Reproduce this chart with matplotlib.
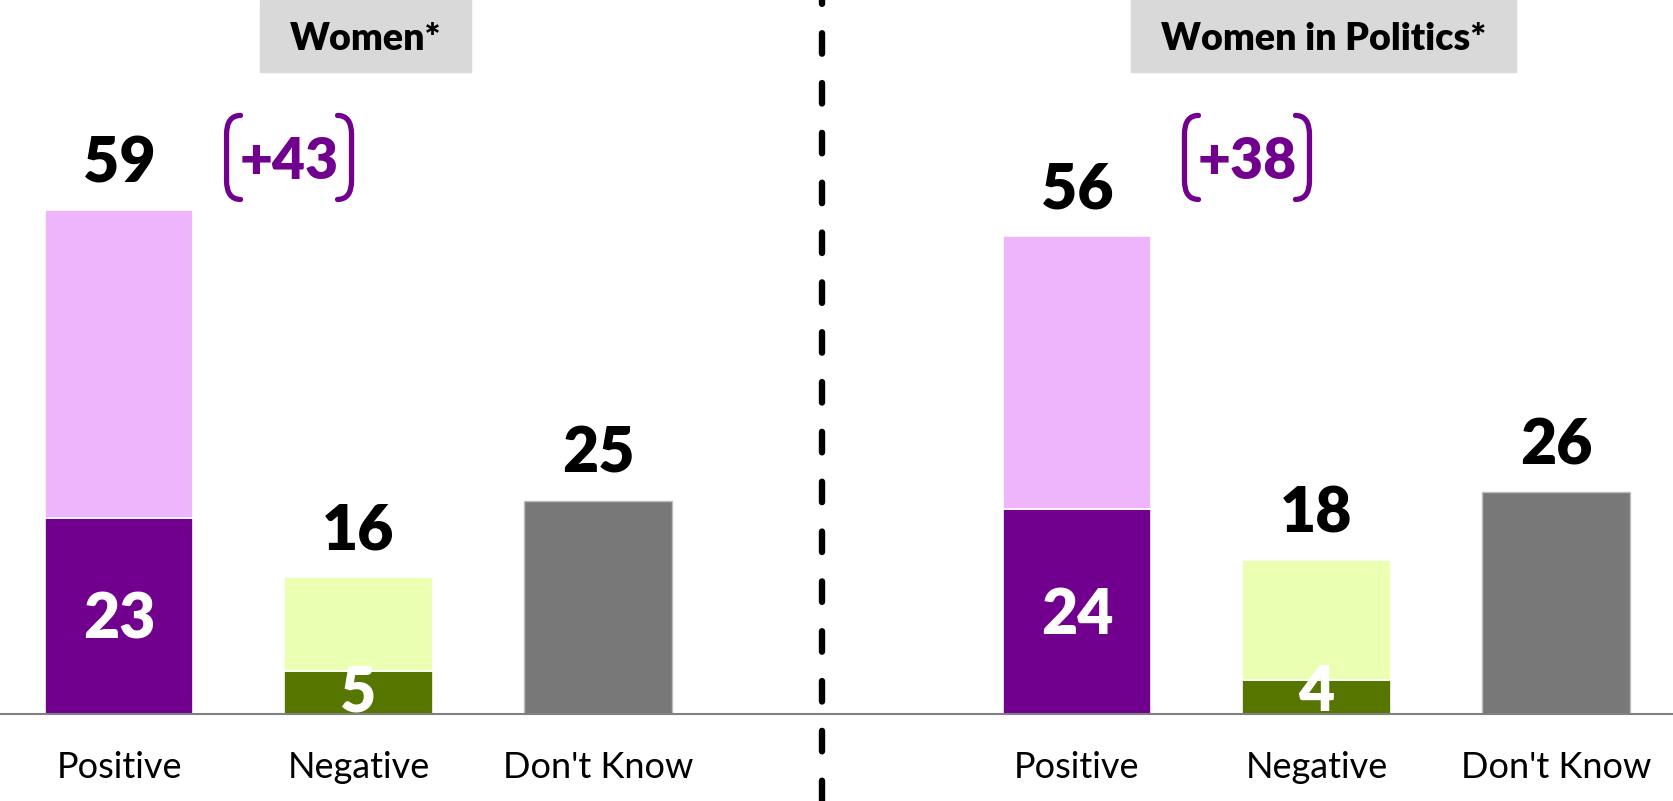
import matplotlib
matplotlib.use("Agg")
import matplotlib.pyplot as plt
import matplotlib.transforms as mtransforms
from matplotlib.lines import Line2D
from matplotlib.patches import PathPatch, Rectangle
from matplotlib.path import Path

# ─── Data ────────────────────────────────────────────────────────────────
PANELS = ["Women*", "Women in Politics*"]
CATEGORIES = ["Positive", "Negative", "Don't Know"]
POSITIVE_TOTAL = [59, 56]
POSITIVE_STRONG = [23, 24]
NEGATIVE_TOTAL = [16, 18]
NEGATIVE_STRONG = [5, 4]
DONT_KNOW = [25, 26]

# ─── Style ───────────────────────────────────────────────────────────────
DARK_PURPLE = "#71008E"
LIGHT_PURPLE = "#EEB5FD"
DARK_GREEN = "#577600"
LIGHT_GREEN = "#EBFFB3"
GREY = "#787878"
FONT = ["Lato", "DejaVu Sans"]
HEAVY = "heavy"

W, H, DPI = 1673, 801, 100
BASE_PX = 87            # baseline height above bottom edge
PX_PER_UNIT = 8.536
BAR_W = 0.62
PANEL_STEP = 4
NET_DX, NET_Y = 0.71, 65.2
MIN_INNER = 25 / PX_PER_UNIT   # keep inner labels inside small segments

plt.rcParams["font.family"] = FONT


def bracket_path(hw, hh, hx, hy):
    """Pair of rounded square brackets around the origin, in inches."""
    verts, codes = [], []
    for s in (-1, 1):
        x = s * hw
        verts += [(x - s * hx, hh), (x, hh), (x, hh - hy),
                  (x, -hh + hy), (x, -hh), (x - s * hx, -hh)]
        codes += [Path.MOVETO, Path.CURVE3, Path.CURVE3,
                  Path.LINETO, Path.CURVE3, Path.CURVE3]
    return Path(verts, codes)


def main() -> None:
    fig = plt.figure(figsize=(W / DPI, H / DPI), dpi=DPI)
    ax = fig.add_axes([0, BASE_PX / H, 1, 1 - BASE_PX / H])
    ax.set_xlim(-0.497, 6.489)
    ax.set_ylim(0, (H - BASE_PX) / PX_PER_UNIT)

    ticks, labels = [], []
    for p, name in enumerate(PANELS):
        x0 = p * PANEL_STEP
        xs = [x0, x0 + 1, x0 + 2]
        ticks += xs
        labels += CATEGORIES

        pos_t, pos_s = POSITIVE_TOTAL[p], POSITIVE_STRONG[p]
        neg_t, neg_s = NEGATIVE_TOTAL[p], NEGATIVE_STRONG[p]
        dk = DONT_KNOW[p]

        ax.bar(xs[0], pos_s, BAR_W, color=DARK_PURPLE, edgecolor="white", lw=1.2)
        ax.bar(xs[0], pos_t - pos_s, BAR_W, bottom=pos_s, color=LIGHT_PURPLE,
               edgecolor="white", lw=1.2)
        ax.bar(xs[1], neg_s, BAR_W, color=DARK_GREEN, edgecolor="white", lw=1.2)
        ax.bar(xs[1], neg_t - neg_s, BAR_W, bottom=neg_s, color=LIGHT_GREEN,
               edgecolor="white", lw=1.2)
        ax.bar(xs[2], dk, BAR_W, color=GREY, edgecolor="#BDBDBD", lw=1.0)

        # totals above bars
        for x, v in zip(xs, (pos_t, neg_t, dk)):
            ax.annotate(str(v), (x, v), xytext=(0, 20), textcoords="offset points",
                        ha="center", va="baseline", fontsize=45,
                        fontweight=HEAVY, color="black")
        # strong shares inside bars
        for x, v in ((xs[0], pos_s), (xs[1], neg_s)):
            ax.annotate(str(v), (x, max(v / 2, MIN_INNER)), xytext=(0, -16),
                        textcoords="offset points", ha="center", va="baseline",
                        fontsize=45, fontweight=HEAVY, color="white")

        # net difference in brackets
        net = pos_t - neg_t
        nx = xs[0] + NET_DX
        ax.text(nx, NET_Y, f"+{net}", ha="center", va="center_baseline",
                fontsize=41, fontweight=HEAVY, color=DARK_PURPLE)
        tr = fig.dpi_scale_trans + mtransforms.ScaledTranslation(nx, NET_Y, ax.transData)
        ax.add_patch(PathPatch(bracket_path(0.625, 0.42, 0.14, 0.19),
                               transform=tr, fill=False, ec=DARK_PURPLE,
                               lw=3.8, capstyle="round", clip_on=False))

        # panel title
        ttr = mtransforms.blended_transform_factory(ax.transData, fig.transFigure)
        fig.text(xs[1] + 0.03, (H - 50) / H, name, transform=ttr, ha="center",
                 va="baseline", fontsize=27, fontweight=HEAVY, color="black",
                 zorder=5)

    ax.set_xticks(ticks)
    ax.set_xticklabels(labels, fontsize=26)
    ax.tick_params(axis="x", length=0, pad=27)
    ax.set_yticks([])
    for side in ("top", "left", "right"):
        ax.spines[side].set_visible(False)
    ax.spines["bottom"].set_color("#808080")
    ax.spines["bottom"].set_linewidth(1.5)
    ax.patch.set_alpha(0)

    # dashed separator between panels
    sep = mtransforms.blended_transform_factory(ax.transData, fig.transFigure)
    fig.add_artist(Line2D([2.935, 2.935], [1, 0], transform=sep, color="black",
                          lw=4.6, linestyle=(2.6, (3.2, 4.6)),
                          dash_capstyle="round"))

    # grey boxes behind the panel titles
    fig.canvas.draw()
    for t in fig.texts:
        bb = t.get_window_extent()
        box_bottom = H - 72
        fig.add_artist(Rectangle((bb.x0 - 30, box_bottom), bb.width + 60, H - box_bottom,
                                 transform=mtransforms.IdentityTransform(),
                                 color="#D9D9D9", zorder=1))

    fig.savefig("out.png", dpi=DPI)


if __name__ == "__main__":
    main()
